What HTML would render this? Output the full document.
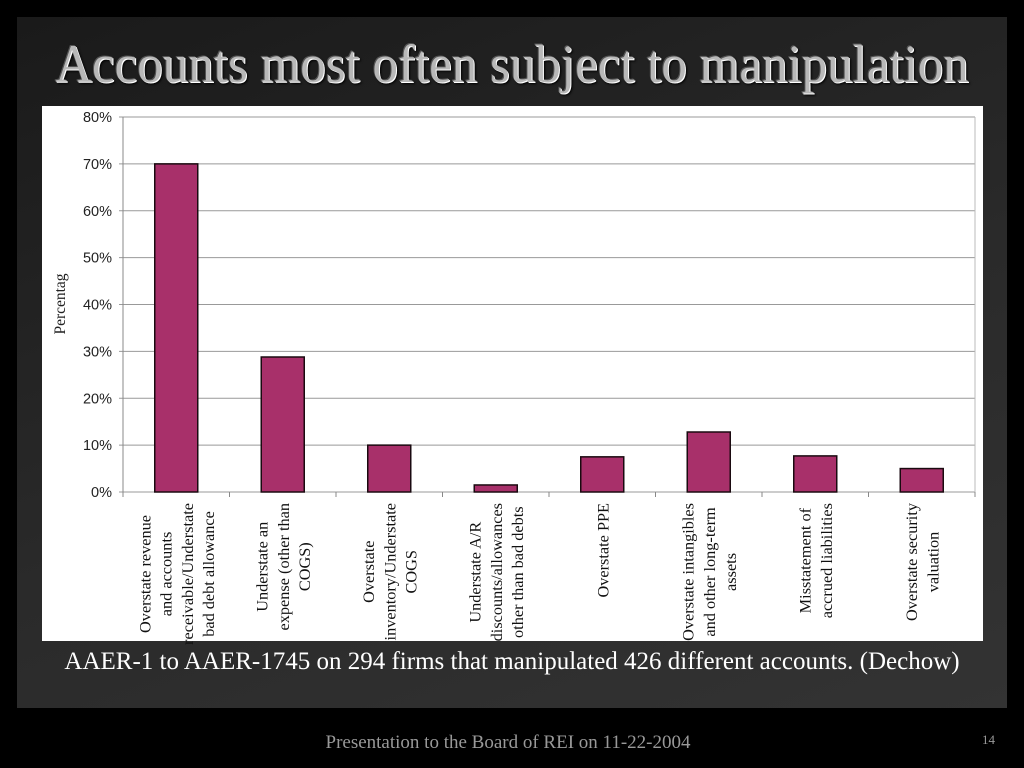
<!DOCTYPE html>
<html><head><meta charset="utf-8"><style>
body{margin:0;width:1024px;height:768px;background:#000;overflow:hidden;position:relative;font-family:"Liberation Serif",serif}
#panel{position:absolute;left:17px;top:17px;width:990px;height:691px;background:linear-gradient(160deg,#1a1a1a 0%,#2a2a2a 55%,#333 100%)}
#title{position:absolute;left:0;width:1024px;top:36px;text-align:center;font-size:51px;color:#b8b8b8;text-shadow:1px 1px 0 #fff,-1px -1px 0 #555,2px 2px 2px #000;transform:scaleY(1.05)}
#caption{position:absolute;left:0;width:1024px;top:648px;text-align:center;font-size:25px;color:#fff;white-space:nowrap}
#footer{position:absolute;left:0;width:1016px;top:732px;text-align:center;font-size:19px;color:#999}
#pnum{position:absolute;left:982px;top:732px;font-size:13px;color:#999}
svg{position:absolute;left:0;top:0}
</style></head><body>
<div id="panel"></div>
<div id="title">Accounts most often subject to manipulation</div>
<svg id="chart" width="1024" height="768"></svg>
<div id="caption">AAER-1 to AAER-1745 on 294 firms that manipulated 426 different accounts. (Dechow)</div>
<div id="footer">Presentation to the Board of REI on 11-22-2004</div>
<div id="pnum">14</div>
<script>
const categories=[
 ["Overstate revenue","and accounts","receivable/Understate","bad debt allowance"],
 ["Understate an","expense (other than","COGS)"],
 ["Overstate","inventory/Understate","COGS"],
 ["Understate A/R","discounts/allowances","other than bad debts"],
 ["Overstate PPE"],
 ["Overstate intangibles","and other long-term","assets"],
 ["Misstatement of","accrued liabilities"],
 ["Overstate security","valuation"]];
const values=[70,28.8,10,1.5,7.5,12.8,7.7,5];
const ticks=[0,10,20,30,40,50,60,70,80];
const tickLabels=["0%","10%","20%","30%","40%","50%","60%","70%","80%"];

const NS="http://www.w3.org/2000/svg";
const svg=document.getElementById('chart');
const X0=123,X1=975,Y0=492,Y1=117,YMAX=80;
const y=v=>Y0-(v/YMAX)*(Y0-Y1);
const band=(X1-X0)/categories.length;
const xc=i=>X0+band*(i+0.5);
function mk(tag,attrs){const e=document.createElementNS(NS,tag);for(const k in attrs)e.setAttribute(k,attrs[k]);svg.appendChild(e);return e;}
const bg=mk('rect',{x:42,y:106,width:941,height:535,fill:'#fff'});


ticks.forEach((t,i)=>{
 const g=mk('line',{x1:X0-4,x2:X1,y1:y(t),y2:y(t),stroke:'#999','stroke-width':1});
 
 
 const tl=mk('text',{x:112,y:y(t)+5,'text-anchor':'end','font-family':'Liberation Sans, sans-serif','font-size':14.5,fill:'#222'});
 tl.textContent=tickLabels[i];
 
 
});
const ax=mk('line',{x1:X0,x2:X0,y1:Y1,y2:Y0,stroke:'#888'});


const rb=mk('line',{x1:X1,x2:X1,y1:Y1,y2:Y0,stroke:'#bbb'});


for(let i=0;i<=categories.length;i++){
 const tk=mk('line',{x1:X0+band*i,x2:X0+band*i,y1:Y0,y2:Y0+5,stroke:'#888'});
 
 
}
const yt=mk('text',{x:0,y:0,transform:'translate(65,304) rotate(-90)','text-anchor':'middle','font-size':15.5,fill:'#222'});
yt.textContent='Percentag';


values.forEach((v,i)=>{
 const b=mk('rect',{x:xc(i)-21.5,y:y(v),width:43,height:Y0-y(v),fill:'#a8306a',stroke:'#1a0a10','stroke-width':1.5});
 
 
});
categories.forEach((lines,i)=>{
 const n=lines.length,sp=21.3;
 const texts=lines.map((s,j)=>{
  const xx=xc(i)+(j-(n-1)/2)*sp+6;
  const t=mk('text',{'text-anchor':'middle','font-size':16.3,fill:'#111'});
  t.textContent=s;
  
  
  return [t,xx];
 });
 let maxL=0;texts.forEach(([t])=>{maxL=Math.max(maxL,t.getComputedTextLength());});
 const cy=503+maxL/2;
 texts.forEach(([t,xx])=>t.setAttribute('transform','translate('+xx+','+cy+') rotate(-90)'));
});
</script>
</body></html>
